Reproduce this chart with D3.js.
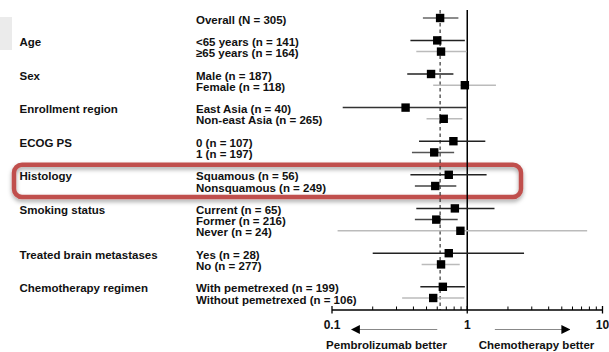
<!DOCTYPE html>
<html>
<head>
<meta charset="utf-8">
<script src="https://cdn.jsdelivr.net/npm/d3@7"></script>
<style>
  html, body { margin: 0; padding: 0; background: #fff; }
  svg { display: block; }
  text { font-family: "Liberation Sans", Arial, Helvetica, sans-serif; font-weight: bold; fill: #111; }
</style>
</head>
<body>
<svg id="chart" width="609" height="352"></svg>
<script>
// Subgroup forest plot: hazard ratio (95% CI), pembrolizumab vs chemotherapy

const groupNames = ["", "Age", "Sex", "Enrollment region", "ECOG PS", "Histology",
  "Smoking status", "Treated brain metastases", "Chemotherapy regimen"];

const rowLabels = [
  "Overall (N = 305)",
  "<65 years (n = 141)", "\u226565 years (n = 164)",
  "Male (n = 187)", "Female (n = 118)",
  "East Asia (n = 40)", "Non-east Asia (n = 265)",
  "0 (n = 107)", "1 (n = 197)",
  "Squamous (n = 56)", "Nonsquamous (n = 249)",
  "Current (n = 65)", "Former (n = 216)", "Never (n = 24)",
  "Yes (n = 28)", "No (n = 277)",
  "With pemetrexed (n = 199)", "Without pemetrexed (n = 106)"
];
const rowGroup = [0, 1, 1, 2, 2, 3, 3, 4, 4, 5, 5, 6, 6, 6, 7, 7, 8, 8];

const hr    = [0.63, 0.60, 0.64, 0.54, 0.96, 0.35, 0.67, 0.79, 0.57, 0.73, 0.58, 0.81, 0.59, 0.89, 0.73, 0.64, 0.66, 0.56];
const lower = [0.47, 0.38, 0.42, 0.36, 0.56, 0.12, 0.50, 0.44, 0.39, 0.38, 0.41, 0.42, 0.41, 0.11, 0.20, 0.46, 0.45, 0.33];
const upper = [0.86, 0.96, 0.99, 0.79, 1.63, 0.99, 0.92, 1.36, 0.80, 1.39, 0.83, 1.59, 0.85, 7.70, 2.63, 0.88, 0.96, 0.95];
const ciTone = ["#666", "#222", "#bbb", "#222", "#bbb", "#333", "#bbb", "#222", "#555",
  "#222", "#444", "#222", "#444", "#bbb", "#222", "#bbb", "#222", "#bbb"];

const tickValues = [0.1, 1, 10];
const tickLabels = ["0.1", "1", "10"];
const minorTicks = [0.2, 0.3, 0.4, 0.5, 0.6, 0.7, 0.8, 0.9, 2, 3, 4, 5, 6, 7, 8, 9];
const favourLeft = "Pembrolizumab better";
const favourRight = "Chemotherapy better";
const highlightGroup = 5;

// Row slots: one slot per row inside a group, two slots between groups
const slots = [];
let s = 0;
rowGroup.forEach((g, i) => {
  if (i > 0) s += (g === rowGroup[i - 1]) ? 1 : 2;
  slots.push(s);
});

const svg = d3.select("#chart");
const x = d3.scaleLog().domain([0.1, 10]).range([332, 602.5]);
const y = d3.scaleLinear().domain([0, d3.max(slots)]).range([18, 298]);
const axisY = 310;

// Light panel at top-left edge
svg.append("rect").attr("x", 0).attr("y", 17).attr("width", 12).attr("height", 33).attr("fill", "#ebebeb");

// Highlight frame around the histology rows
const defs = svg.append("defs");
const f = defs.append("filter").attr("id", "shadow").attr("x", "-10%").attr("y", "-40%").attr("width", "120%").attr("height", "190%");
f.append("feDropShadow").attr("dx", 0).attr("dy", 2.5).attr("stdDeviation", 2).attr("flood-color", "#000").attr("flood-opacity", 0.35);

const hRows = slots.filter((_, i) => rowGroup[i] === highlightGroup);
const hTop = y(d3.min(hRows)) - 10;
const hBot = y(d3.max(hRows)) + 11;
svg.append("rect")
  .attr("x", 14).attr("y", hTop).attr("width", 507).attr("height", hBot - hTop)
  .attr("rx", 8).attr("ry", 8)
  .attr("fill", "none").attr("stroke", "#c0504d").attr("stroke-width", 4.5)
  .attr("filter", "url(#shadow)");

// Reference lines: no effect (HR = 1) and overall estimate
svg.append("line").attr("x1", x(1)).attr("x2", x(1)).attr("y1", 10).attr("y2", axisY)
  .attr("stroke", "#000").attr("stroke-width", 1.5);
svg.append("line").attr("x1", x(hr[0])).attr("x2", x(hr[0])).attr("y1", 10).attr("y2", axisY)
  .attr("stroke", "#333").attr("stroke-width", 1.2).attr("stroke-dasharray", "3.5,3");

// Group labels
const firstRows = rowGroup.map((g, i) => (i === 0 || g !== rowGroup[i - 1]) && g > 0 ? i : -1).filter(i => i >= 0);
svg.selectAll("text.group").data(firstRows).join("text")
  .attr("class", "group")
  .attr("x", 19.5).attr("y", i => y(slots[i]) + 1.5)
  .attr("dominant-baseline", "central")
  .attr("font-size", "11.5px")
  .text(i => groupNames[rowGroup[i]]);

// Subgroup labels
svg.selectAll("text.row").data(rowLabels).join("text")
  .attr("class", "row")
  .attr("x", 196).attr("y", (d, i) => y(slots[i]) + 1.5)
  .attr("dominant-baseline", "central")
  .attr("font-size", "11.5px")
  .text(d => d);

// Confidence intervals and point estimates
const rows = svg.append("g").selectAll("g").data(hr).join("g");
rows.append("line")
  .attr("x1", (d, i) => x(lower[i])).attr("x2", (d, i) => x(upper[i]))
  .attr("y1", (d, i) => y(slots[i])).attr("y2", (d, i) => y(slots[i]))
  .attr("stroke", (d, i) => ciTone[i]).attr("stroke-width", 1.5);
rows.append("rect")
  .attr("x", d => x(d) - 4.2).attr("y", (d, i) => y(slots[i]) - 4.2)
  .attr("width", 8.4).attr("height", 8.4).attr("fill", "#000");

// Log axis
const axis = svg.append("g");
axis.append("line").attr("x1", x(0.1)).attr("x2", x(10)).attr("y1", axisY).attr("y2", axisY)
  .attr("stroke", "#000").attr("stroke-width", 1.3);
axis.selectAll("line.minor").data(minorTicks).join("line")
  .attr("class", "minor")
  .attr("x1", d => x(d)).attr("x2", d => x(d)).attr("y1", axisY - 3.5).attr("y2", axisY)
  .attr("stroke", "#000").attr("stroke-width", 1);
axis.selectAll("line.major").data(tickValues).join("line")
  .attr("class", "major")
  .attr("x1", d => x(d)).attr("x2", d => x(d)).attr("y1", axisY - 4).attr("y2", axisY + 3.5)
  .attr("stroke", "#000").attr("stroke-width", 1.3);
axis.selectAll("text.tick").data(tickValues).join("text")
  .attr("class", "tick")
  .attr("x", d => x(d)).attr("y", 325)
  .attr("text-anchor", "middle").attr("dominant-baseline", "central")
  .attr("font-size", "12px")
  .text((d, i) => tickLabels[i]);

// Direction arrows
defs.append("marker").attr("id", "head").attr("viewBox", "0 0 10 10")
  .attr("refX", 9).attr("refY", 5).attr("markerWidth", 9).attr("markerHeight", 9)
  .attr("markerUnits", "userSpaceOnUse").attr("orient", "auto")
  .append("path").attr("d", "M0,0 L10,5 L0,10 Z").attr("fill", "#000");
const arrowY = 329.5;
svg.append("line").attr("x1", x(0.6)).attr("x2", x(0.14)).attr("y1", arrowY).attr("y2", arrowY)
  .attr("stroke", "#888").attr("stroke-width", 1.2).attr("marker-end", "url(#head)");
svg.append("line").attr("x1", x(1.6)).attr("x2", x(5.7)).attr("y1", arrowY).attr("y2", arrowY)
  .attr("stroke", "#888").attr("stroke-width", 1.2).attr("marker-end", "url(#head)");

svg.append("text").attr("x", 386.5).attr("y", 345).attr("text-anchor", "middle")
  .attr("dominant-baseline", "central").attr("font-size", "11.5px").text(favourLeft);
svg.append("text").attr("x", 536.5).attr("y", 345).attr("text-anchor", "middle")
  .attr("dominant-baseline", "central").attr("font-size", "11.5px").text(favourRight);
</script>
</body>
</html>
